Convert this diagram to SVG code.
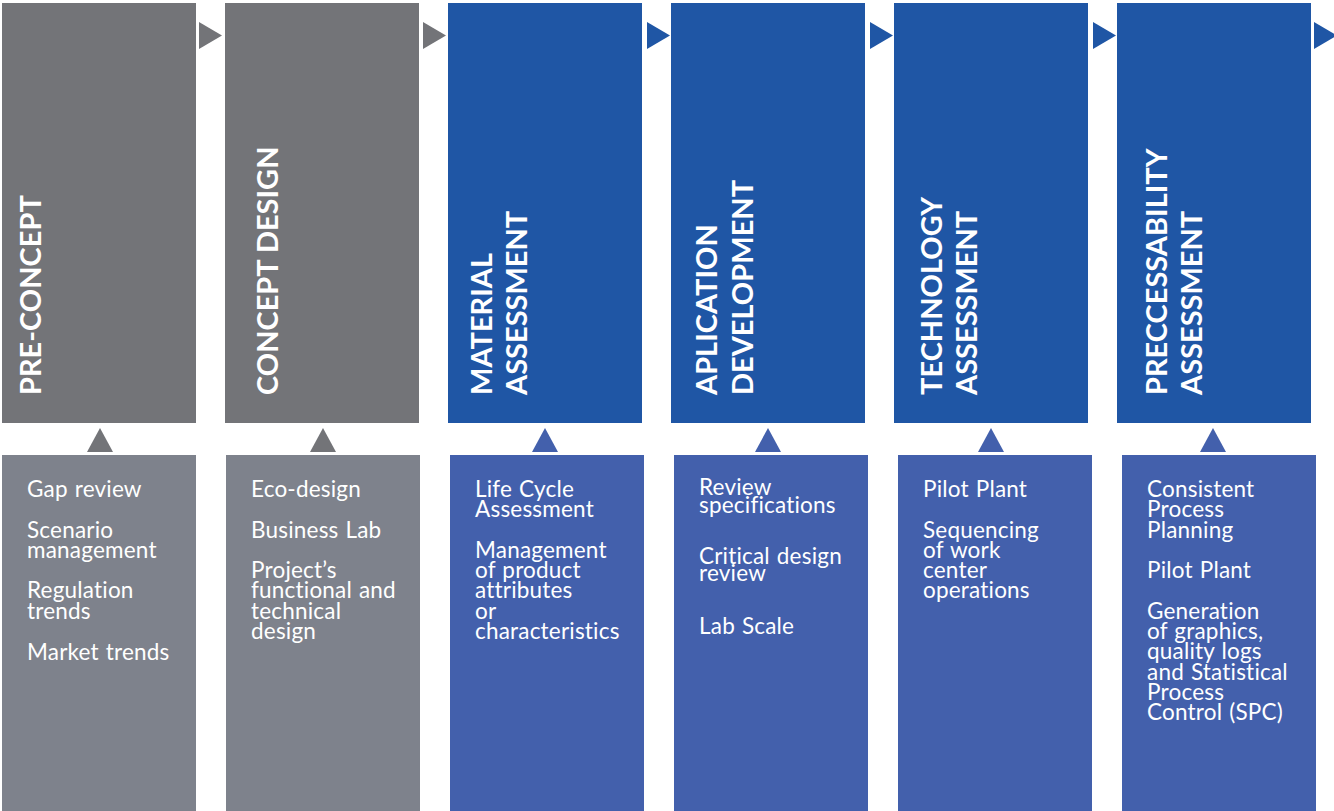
<svg xmlns="http://www.w3.org/2000/svg" width="1334" height="811" viewBox="0 0 1334 811">
<style>
.tg{fill:#737478}.bg{fill:#7e828c}.tb{fill:#1f56a5}.bb{fill:#4360ac}
.hd{font-family:Lato,"Open Sans",sans-serif;font-weight:bold;font-size:29px;fill:#fff}
.it{font-family:Lato,"Open Sans",sans-serif;font-weight:normal;font-size:22.5px;letter-spacing:0.2px;word-spacing:1px;fill:#fff}
</style>
<rect width="1334" height="811" fill="#fff"/>
<g id="connectors">
<polygon class="tg" points="199,22 222,35.5 199,49"/>
<polygon class="tg" points="423,22 446,35.5 423,49"/>
<polygon class="tb" points="647,22 670,35.5 647,49"/>
<polygon class="tb" points="870,22 893,35.5 870,49"/>
<polygon class="tb" points="1093,22 1116,35.5 1093,49"/>
<polygon class="tb" points="1314,22 1337,35.5 1314,49"/>
<polygon class="tg" points="87,452 100,428 113,452"/>
<polygon class="tg" points="310,452 323,428 336,452"/>
<polygon class="bb" points="532,452 545,428 558,452"/>
<polygon class="bb" points="755,452 768,428 781,452"/>
<polygon class="bb" points="978,452 991,428 1004,452"/>
<polygon class="bb" points="1200,452 1213,428 1226,452"/>
</g>
<g id="stage1">
<rect class="tg" x="2" y="3" width="194" height="420"/>
<text class="hd" transform="translate(41,395) rotate(-90)">PRE-CONCEPT</text>
</g>
<g id="stage2">
<rect class="tg" x="225" y="3" width="194" height="420"/>
<text class="hd" transform="translate(278,395) rotate(-90)">CONCEPT DESIGN</text>
</g>
<g id="stage3">
<rect class="tb" x="448" y="3" width="194" height="420"/>
<text class="hd" transform="translate(492,395) rotate(-90)">MATERIAL</text>
<text class="hd" transform="translate(527,395) rotate(-90)">ASSESSMENT</text>
</g>
<g id="stage4">
<rect class="tb" x="671" y="3" width="194" height="420"/>
<text class="hd" transform="translate(717,395) rotate(-90)">APLICATION</text>
<text class="hd" transform="translate(753,395) rotate(-90)">DEVELOPMENT</text>
</g>
<g id="stage5">
<rect class="tb" x="894" y="3" width="194" height="420"/>
<text class="hd" transform="translate(942,395) rotate(-90)">TECHNOLOGY</text>
<text class="hd" transform="translate(977,395) rotate(-90)">ASSESSMENT</text>
</g>
<g id="stage6">
<rect class="tb" x="1117" y="3" width="194" height="420"/>
<text class="hd" transform="translate(1167,395) rotate(-90)">PRECCESSABILITY</text>
<text class="hd" transform="translate(1202,395) rotate(-90)">ASSESSMENT</text>
</g>
<g id="detail1">
<rect class="bg" x="2" y="455" width="194" height="356"/>
<text class="it" x="27" y="497">Gap review</text>
<text class="it" x="27" y="538">Scenario</text>
<text class="it" x="27" y="558">management</text>
<text class="it" x="27" y="598">Regulation</text>
<text class="it" x="27" y="619">trends</text>
<text class="it" x="27" y="660">Market trends</text>
</g>
<g id="detail2">
<rect class="bg" x="226" y="455" width="194" height="356"/>
<text class="it" x="251" y="497">Eco-design</text>
<text class="it" x="251" y="538">Business Lab</text>
<text class="it" x="251" y="578">Project’s</text>
<text class="it" x="251" y="598">functional and</text>
<text class="it" x="251" y="619">technical</text>
<text class="it" x="251" y="639">design</text>
</g>
<g id="detail3">
<rect class="bb" x="450" y="455" width="194" height="356"/>
<text class="it" x="475" y="497">Life Cycle</text>
<text class="it" x="475" y="517">Assessment</text>
<text class="it" x="475" y="558">Management</text>
<text class="it" x="475" y="578">of product</text>
<text class="it" x="475" y="598">attributes</text>
<text class="it" x="475" y="619">or</text>
<text class="it" x="475" y="639">characteristics</text>
</g>
<g id="detail4">
<rect class="bb" x="674" y="455" width="194" height="356"/>
<text class="it" x="699" y="495">Review</text>
<text class="it" x="699" y="513">specifications</text>
<text class="it" x="699" y="564">Critical design</text>
<text class="it" x="699" y="581">review</text>
<text class="it" x="699" y="634">Lab Scale</text>
</g>
<g id="detail5">
<rect class="bb" x="898" y="455" width="194" height="356"/>
<text class="it" x="923" y="497">Pilot Plant</text>
<text class="it" x="923" y="538">Sequencing</text>
<text class="it" x="923" y="558">of work</text>
<text class="it" x="923" y="578">center</text>
<text class="it" x="923" y="598">operations</text>
</g>
<g id="detail6">
<rect class="bb" x="1122" y="455" width="194" height="356"/>
<text class="it" x="1147" y="497">Consistent</text>
<text class="it" x="1147" y="517">Process</text>
<text class="it" x="1147" y="538">Planning</text>
<text class="it" x="1147" y="578">Pilot Plant</text>
<text class="it" x="1147" y="619">Generation</text>
<text class="it" x="1147" y="639">of graphics,</text>
<text class="it" x="1147" y="659">quality logs</text>
<text class="it" x="1147" y="680">and Statistical</text>
<text class="it" x="1147" y="700">Process</text>
<text class="it" x="1147" y="720">Control (SPC)</text>
</g>
</svg>
